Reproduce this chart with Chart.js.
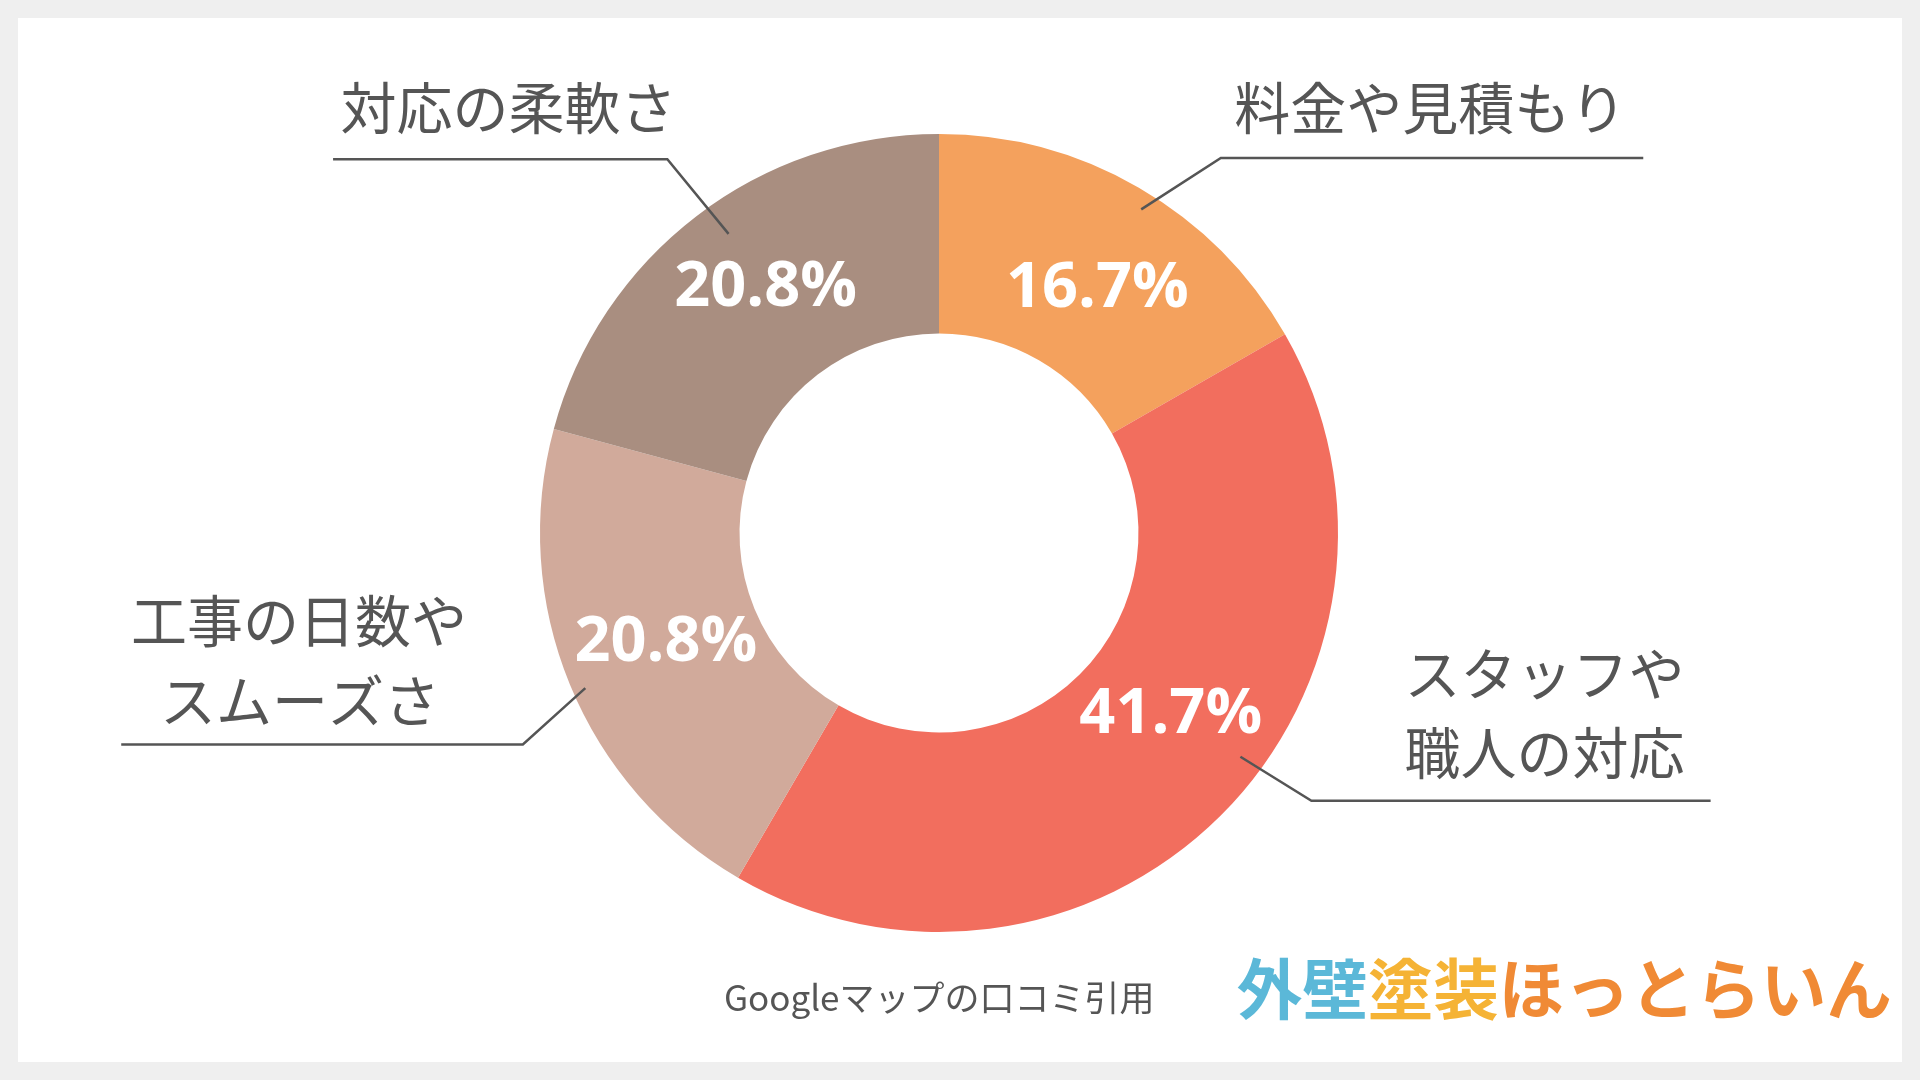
<!DOCTYPE html>
<html><head><meta charset="utf-8">
<script src="https://cdn.jsdelivr.net/npm/chart.js@4/dist/chart.umd.min.js"></script>
<style>html,body{margin:0;padding:0;background:#efefef}canvas{display:block}</style>
</head><body>
<canvas id="c" width="1920" height="1080"></canvas>
<script>
const categories = ["料金や見積もり", "スタッフや\n職人の対応", "工事の日数や\nスムーズさ", "対応の柔軟さ"];
const values = [16.7, 41.7, 20.8, 20.8];
const colors = ["#f4a15d", "#f26e5e", "#d1aa9b", "#a98e80"];
const S = 1920 / 1568;
const F = "'Noto Sans CJK JP','Noto Sans',sans-serif";
const labelNudge = [[7,12],[17,-25],[3,-3],[7,-6]];
const callouts = [
  {pts:[[932,171],[997,129],[1342,129]], lines:[{t:"料金や見積もり",x:1168,y:88,a:"center"}]},
  {pts:[[1013,618],[1071,654],[1397,654]], lines:[{t:"スタッフや",x:1147,y:550,a:"left"},{t:"職人の対応",x:1147,y:615,a:"left"}]},
  {pts:[[478,562],[427,608],[99,608]], lines:[{t:"工事の日数や",x:107,y:507,a:"left"},{t:"スムーズさ",x:245,y:572,a:"center"}]},
  {pts:[[595,191],[545,130],[272,130]], lines:[{t:"対応の柔軟さ",x:278,y:88,a:"left"}]}
];
const deco = {
  id:"deco",
  beforeDraw(chart){
    const c = chart.ctx; c.save();
    c.fillStyle="#efefef"; c.fillRect(0,0,1920,1080);
    c.fillStyle="#ffffff"; c.fillRect(18,18,1884,1044);
    c.restore();
  },
  afterDraw(chart){
    const c = chart.ctx; c.save();
    const meta = chart.getDatasetMeta(0);
    c.fillStyle="#ffffff"; c.font="bold 63px 'Open Sans','Noto Sans',sans-serif";
    c.textAlign="center"; c.textBaseline="middle";
    meta.data.forEach((el,i)=>{
      const p = el.tooltipPosition();
      c.fillText(values[i].toFixed(1)+"%", p.x+labelNudge[i][0]*S, p.y+labelNudge[i][1]*S);
    });
    c.strokeStyle="#555"; c.lineWidth=2.5;
    c.fillStyle="#555"; c.font="56px "+F; c.textBaseline="middle";
    callouts.forEach(co=>{
      c.beginPath();
      co.pts.forEach((q,j)=>{ j? c.lineTo(q[0]*S,q[1]*S) : c.moveTo(q[0]*S,q[1]*S); });
      c.stroke();
      co.lines.forEach(l=>{ c.textAlign=l.a; c.fillText(l.t,l.x*S,l.y*S); });
    });
    c.font="35px "+F; c.textAlign="center"; c.fillStyle="#555";
    c.fillText("Googleマップの口コミ引用", 767*S, 815*S);
    const parts = [["外壁","#5bb8d8"],["塗装","#f5b335"],["ほっとらいん","#f08a35"]];
    c.font="bold 72px "+F;
    const tw = parts.reduce((s,p)=>s+c.measureText(p[0]).width,0);
    const fs = 72*(535*S)/tw;
    c.font="bold "+fs+"px "+F; c.textAlign="left";
    let x = 1010*S; const y = 808*S;
    parts.forEach(([t,col])=>{ c.fillStyle=col; c.fillText(t,x,y); x += c.measureText(t).width; });
    c.restore();
  }
};
new Chart(document.getElementById("c"), {
  type:"doughnut",
  data:{labels:categories, datasets:[{data:values, backgroundColor:colors, borderWidth:0}]},
  options:{
    responsive:false, animation:false, cutout:"50%",
    layout:{padding:{top:134,bottom:148,left:540,right:582}},
    plugins:{legend:{display:false},tooltip:{enabled:false}}
  },
  plugins:[deco]
});
</script>
</body></html>
